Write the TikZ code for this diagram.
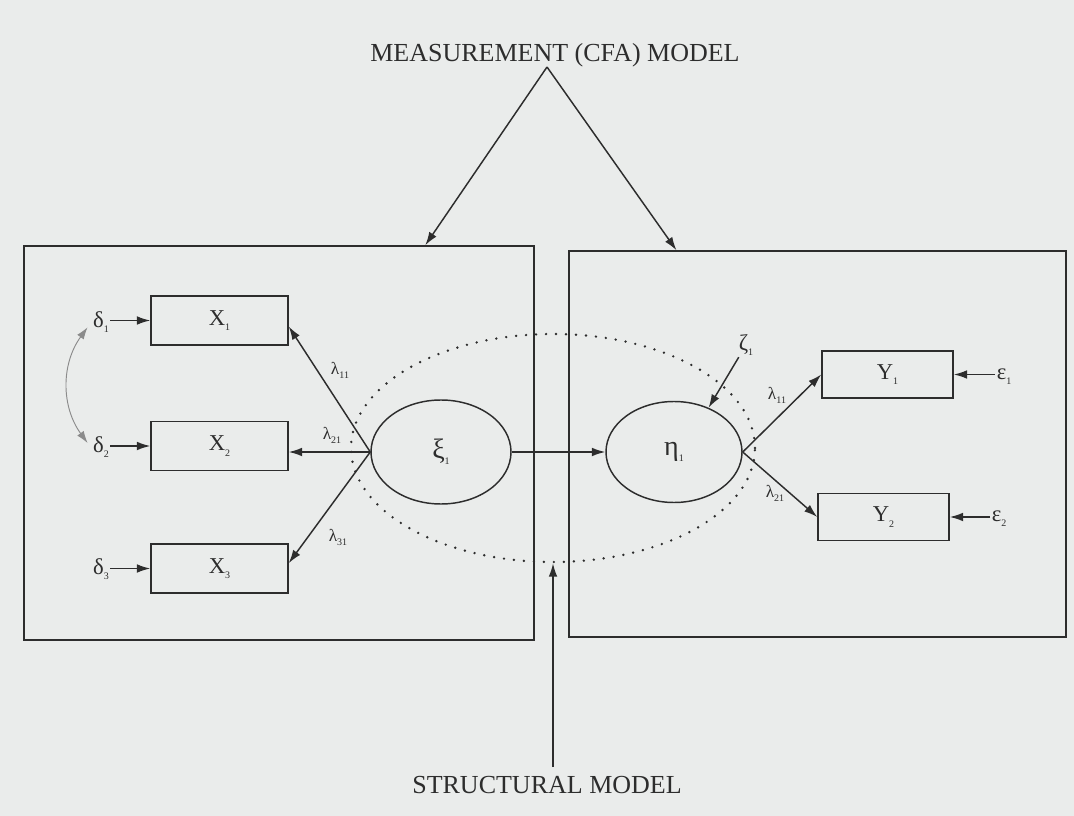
\documentclass[tikz,border=0pt]{standalone}
\usepackage{fontspec}
\setmainfont{Liberation Serif}
\usetikzlibrary{arrows.meta,shapes.geometric,calc}
\newcommand\lo[1]{\raisebox{-0.5ex}{\fontsize{7.5pt}{8pt}\selectfont #1}}
\definecolor{paper}{RGB}{234,236,235}
\definecolor{ink}{RGB}{45,45,45}
\begin{document}
\begin{tikzpicture}[x=0.75pt,y=-0.75pt,
  every node/.style={text=ink},
  line/.style={draw=ink, line width=1.1pt},
  arr/.style={line, -{Latex[length=10pt,width=6.5pt]}},
  xbox/.style={rectangle, line, minimum width=102.75pt, minimum height=36.75pt, inner sep=0pt, font=\fontsize{17}{17}\selectfont},
  ybox/.style={rectangle, line, minimum width=98.25pt, minimum height=35.25pt, inner sep=0pt, font=\fontsize{17}{17}\selectfont},
  lat/.style={ellipse, line, inner sep=0pt, font=\fontsize{21}{21}\selectfont},
  err/.style={inner sep=1pt, font=\fontsize{17}{17}\selectfont},
  lam/.style={inner sep=0pt, font=\fontsize{13}{13}\selectfont},
  title/.style={font=\fontsize{19.5}{20}\selectfont, inner sep=0pt},
  panel/.style={rectangle, line, inner sep=0pt},
  dots/.style={ellipse, draw=ink, line width=2pt, dash pattern=on 0pt off 7.5pt, line cap=round, inner sep=0pt}]

\fill[paper] (0,0) rectangle (1074,816);
\useasboundingbox (0,0) rectangle (1074,816);

% panels
\node[panel, minimum width=382.5pt, minimum height=295.5pt] (lbox) at (279,443) {};
\node[panel, minimum width=372.75pt, minimum height=289.5pt] (rbox) at (817.5,444) {};

% titles
\node[title, anchor=base] (meas) at (555,62) {MEASUREMENT (CFA) MODEL};
\node[title, anchor=base] (struct) at (547,793) {STRUCTURAL MODEL};
\coordinate (apex) at (547,67);
\coordinate (sb) at (553,767);

% structural ellipse
\node[dots, minimum width=303pt, minimum height=171pt] (sm) at (553,448) {};

% observed
\node[xbox] (x1) at (219.5,320.5) {X\lo{1}};
\node[xbox] (x2) at (219.5,446) {X\lo{2}};
\node[xbox] (x3) at (219.5,568.5) {X\lo{3}};
\node[ybox] (y1) at (887.5,374.5) {Y\lo{1}};
\node[ybox] (y2) at (883.5,517) {Y\lo{2}};

% latent
\node[lat, minimum width=105pt, minimum height=78pt] (xi) at (441,452) {ξ\lo{1}};
\node[lat, minimum width=102pt, minimum height=75.75pt] (eta) at (674,452) {η\lo{1}};

% errors
\node[err] (d1) at (101,322) {δ\lo{1}};
\node[err] (d2) at (101,447) {δ\lo{2}};
\node[err] (d3) at (101,569) {δ\lo{3}};
\node[err] (e1) at (1004,377) {ε\lo{1}};
\node[err] (e2) at (999,519) {ε\lo{2}};
\node[err] (z1) at (746,345) {ζ\lo{1}};

% connectors
\draw[arr] (apex) -- ($(lbox.north west)!0.786!(lbox.north east)$);
\draw[arr] (apex) -- ($(rbox.north west)!0.217!(rbox.north east)$);
\draw[arr] (sb) -- (sm.south);

\draw[arr] (xi.west) -- ([yshift=-4.5pt]x1.east);
\draw[arr] (xi.west) -- (xi.west -| x2.east);
\draw[arr] (xi.west) -- ([yshift=4pt]x3.east);
\draw[arr] (xi.east) -- (eta.west);
\draw[arr] (eta.east) -- (y1.west);
\draw[arr] (eta.east) -- (y2.west);
\draw[arr] (z1) -- (eta.52);

\draw[arr] (d1.east |- x1.west) -- (x1.west);
\draw[arr] (d2.east |- x2.west) -- (x2.west);
\draw[arr] (d3.east |- x3.west) -- (x3.west);
\draw[arr] (e1.west |- y1.east) -- (y1.east);
\draw[arr] (e2.west |- y2.east) -- (y2.east);
\draw[draw=ink!55, line width=0.7pt, {Latex[length=9pt,width=6pt]}-{Latex[length=9pt,width=6pt]}]
  ([xshift=-3pt,yshift=-4pt]d1.west) to[bend right=36] ([xshift=-3pt,yshift=3pt]d2.west);

% loadings
\node[lam] at (340,370) {λ\lo{11}};
\node[lam] at (332,435) {λ\lo{21}};
\node[lam] at (338,537) {λ\lo{31}};
\node[lam] at (777,395) {λ\lo{11}};
\node[lam] at (775,493) {λ\lo{21}};
\end{tikzpicture}
\end{document}
